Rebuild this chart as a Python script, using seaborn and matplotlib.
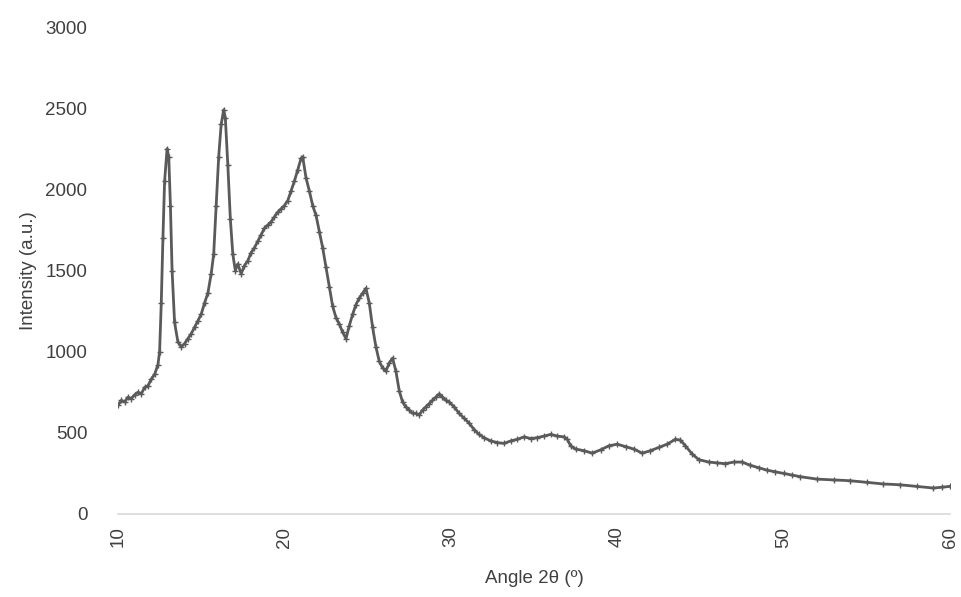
import pandas as pd
import matplotlib
matplotlib.use("Agg")
import matplotlib.pyplot as plt
import seaborn as sns

# XRD pattern
angle = [
    10.0, 10.2, 10.4, 10.6, 10.8, 11.0, 11.2, 11.4, 11.6, 11.8,
    12.0, 12.2, 12.4, 12.5, 12.6, 12.7, 12.8, 12.95, 13.05, 13.15,
    13.25, 13.4, 13.6, 13.8, 14.0, 14.2, 14.4, 14.6, 14.8, 15.0,
    15.2, 15.4, 15.6, 15.75, 15.9, 16.05, 16.2, 16.35, 16.45, 16.6,
    16.75, 16.9, 17.05, 17.2, 17.4, 17.6, 17.8, 18.0, 18.2, 18.4,
    18.6, 18.8, 19.0, 19.2, 19.4, 19.6, 19.8, 20.0, 20.2, 20.4,
    20.6, 20.8, 21.0, 21.1, 21.3, 21.5, 21.7, 21.9, 22.1, 22.3,
    22.5, 22.7, 22.9, 23.1, 23.3, 23.5, 23.7, 23.9, 24.1, 24.3,
    24.5, 24.7, 24.9, 25.1, 25.3, 25.5, 25.7, 25.9, 26.1, 26.3,
    26.5, 26.7, 26.9, 27.1, 27.3, 27.5, 27.7, 27.9, 28.1, 28.3,
    28.5, 28.7, 28.9, 29.1, 29.3, 29.5, 29.7, 29.9, 30.2, 30.5,
    30.8, 31.1, 31.4, 31.7, 32.0, 32.4, 32.8, 33.2, 33.6, 34.0,
    34.4, 34.8, 35.2, 35.6, 36.0, 36.4, 36.8, 37.0, 37.2, 37.5,
    38.0, 38.5, 39.0, 39.5, 40.0, 40.5, 41.0, 41.5, 42.0, 42.5,
    43.0, 43.5, 43.8, 44.1, 44.5, 44.9, 45.5, 46.0, 46.5, 47.0,
    47.5, 48.0, 48.5, 49.0, 49.5, 50.0, 50.5, 51.0, 52.0, 53.0,
    54.0, 55.0, 56.0, 57.0, 58.0, 59.0, 59.5, 60.0,
]
intensity = [
    670, 700, 690, 720, 710, 735, 750, 740, 780, 790,
    830, 860, 920, 1000, 1300, 1700, 2050, 2250, 2200, 1900,
    1500, 1180, 1060, 1030, 1050, 1080, 1110, 1150, 1190, 1230,
    1300, 1360, 1480, 1600, 1900, 2200, 2400, 2490, 2440, 2150,
    1820, 1600, 1500, 1540, 1480, 1530, 1560, 1610, 1640, 1680,
    1720, 1760, 1780, 1800, 1830, 1860, 1880, 1900, 1930, 1990,
    2050, 2120, 2190, 2200, 2070, 1990, 1900, 1840, 1740, 1640,
    1520, 1400, 1280, 1210, 1170, 1120, 1080, 1160, 1230, 1290,
    1330, 1360, 1390, 1300, 1150, 1030, 940, 900, 880, 930,
    960, 880, 760, 690, 660, 640, 620, 620, 610, 640,
    660, 680, 700, 720, 740, 720, 700, 690, 660, 620,
    590, 560, 520, 490, 470, 450, 440, 435, 450, 460,
    475, 465, 470, 480, 490, 480, 475, 460, 420, 400,
    390, 375, 395, 420, 430, 415, 400, 375, 390, 410,
    430, 460, 455, 420, 370, 335, 320, 315, 310, 320,
    320, 300, 285, 270, 260, 250, 240, 230, 215, 210,
    205, 195, 185, 180, 170, 160, 165, 170,
]
y_ticks = [0, 500, 1000, 1500, 2000, 2500, 3000]
x_ticks = [10, 20, 30, 40, 50, 60]

df = pd.DataFrame({"angle": angle, "intensity": intensity})

sns.set_style("white")
plt.rcParams["font.family"] = ["Liberation Sans", "DejaVu Sans"]

fig = plt.figure(figsize=(9.62, 5.97), dpi=100)
ax = fig.add_axes([118 / 962, 83 / 597, 832 / 962, 487 / 597])

line_color = "#5a5a5a"
sns.lineplot(
    data=df, x="angle", y="intensity", ax=ax, color=line_color,
    linewidth=2.0, marker="+", markersize=5, markeredgewidth=1.0,
    markeredgecolor=line_color, markerfacecolor=line_color,
    estimator=None, sort=False,
)

ax.set_xlim(10, 60)
ax.set_ylim(0, 3000)
ax.set_xticks(x_ticks)
ax.set_yticks(y_ticks)
ax.set_xticklabels([str(t) for t in x_ticks], rotation=90)
ax.tick_params(axis="both", length=0, labelsize=13.5, colors="#404040")
ax.tick_params(axis="x", pad=9)
ax.tick_params(axis="y", pad=22)

for side in ["top", "right", "left"]:
    ax.spines[side].set_visible(False)
ax.spines["bottom"].set_color("#d9d9d9")
ax.spines["bottom"].set_linewidth(1.2)

ax.set_xlabel("Angle 2θ (º)", fontsize=13.5, color="#404040", labelpad=16)
ax.set_ylabel("Intensity (a.u.)", fontsize=13.5, color="#404040", labelpad=6)

fig.savefig("out.png", dpi=100)
